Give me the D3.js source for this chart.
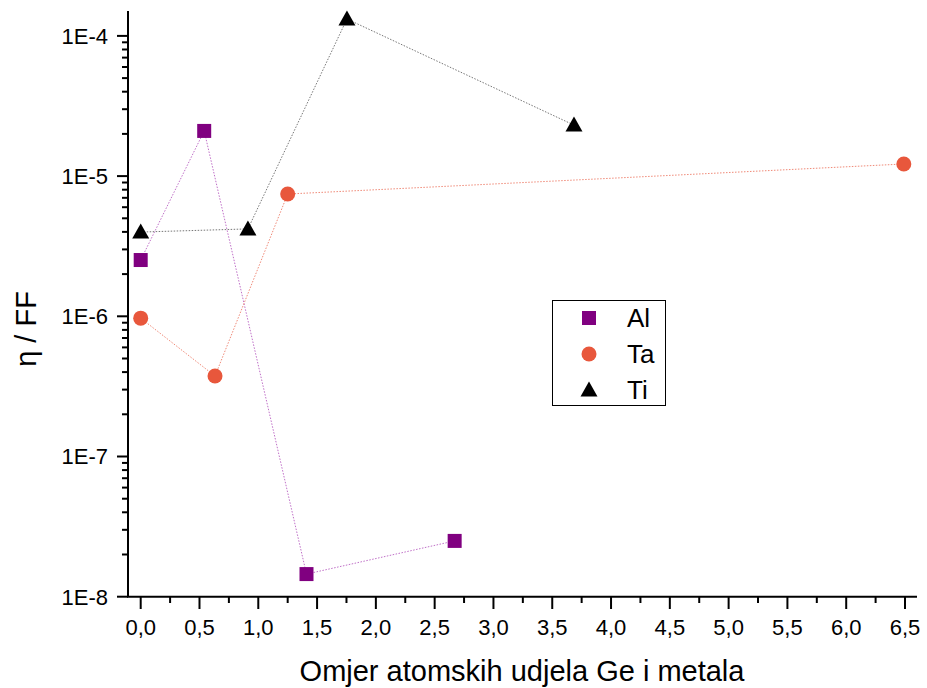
<!DOCTYPE html>
<html><head><meta charset="utf-8">
<script src="https://cdn.jsdelivr.net/npm/d3@7"></script>
<style>body{margin:0;background:#fff}svg{display:block;font-family:Arial,"Liberation Sans",sans-serif}</style>
</head><body>
<svg id="c" width="927" height="688"></svg>
<script>
const seriesNames = ["Al","Ta","Ti"];
const alX = [0, 0.54, 1.41, 2.67];
const alY = [2.52e-6, 2.1e-5, 1.45e-8, 2.5e-8];
const taX = [0, 0.632, 1.25, 6.49];
const taY = [9.7e-7, 3.75e-7, 7.45e-6, 1.22e-5];
const tiX = [0, 0.912, 1.754, 3.685];
const tiY = [3.99e-6, 4.2e-6, 1.32e-4, 2.31e-5];
const xTicks = [0,0.5,1,1.5,2,2.5,3,3.5,4,4.5,5,5.5,6,6.5];
const yTicks = [1e-8,1e-7,1e-6,1e-5,1e-4];
const yTickLabels = ["1E-8","1E-7","1E-6","1E-5","1E-4"];
const xTitle = "Omjer atomskih udjela Ge i metala";
const yTitle = "η / FF";

const svg = d3.select("#c");
const x = d3.scaleLinear().domain([0, 6.5]).range([140.7, 905]);
const y = d3.scaleLog().domain([1e-8, 1e-4]).range([596.7, 35.9]);
const yTop = y.invert(11);

// Y axis
const g = svg.append("g");
g.append("line").attr("x1",128).attr("x2",128).attr("y1",y(yTop)).attr("y2",y(1e-8)).attr("stroke","#000").attr("stroke-width",2);
const minorY = [];
for (let e=-8;e<-3;e++) for (let m=2;m<=9;m++){const v=m*Math.pow(10,e); if(v<=yTop) minorY.push(v);}
g.selectAll(".ymin").data(minorY).join("line").attr("x1",122).attr("x2",128).attr("y1",d=>y(d)).attr("y2",d=>y(d)).attr("stroke","#000").attr("stroke-width",2);
g.selectAll(".ymaj").data(yTicks).join("line").attr("x1",117).attr("x2",128).attr("y1",d=>y(d)).attr("y2",d=>y(d)).attr("stroke","#000").attr("stroke-width",2);
g.selectAll(".ylab").data(yTicks).join("text").attr("x",108).attr("y",d=>y(d)).attr("dy","0.36em").attr("text-anchor","end").attr("font-size",22).text((d,i)=>yTickLabels[i]);

// X axis
g.append("line").attr("x1",127).attr("x2",917).attr("y1",596.7).attr("y2",596.7).attr("stroke","#000").attr("stroke-width",2);
const minorX = xTicks.slice(0,-1).map(d=>d+0.25);
g.selectAll(".xmin").data(minorX).join("line").attr("x1",d=>x(d)).attr("x2",d=>x(d)).attr("y1",596.7).attr("y2",603).attr("stroke","#000").attr("stroke-width",2);
g.selectAll(".xmaj").data(xTicks).join("line").attr("x1",d=>x(d)).attr("x2",d=>x(d)).attr("y1",596.7).attr("y2",609).attr("stroke","#000").attr("stroke-width",2);
g.selectAll(".xlab").data(xTicks).join("text").attr("x",d=>x(d)).attr("y",635).attr("text-anchor","middle").attr("font-size",22).text(d=>d3.format(".1f")(d).replace(".",","));

svg.append("text").attr("x",522).attr("y",681).attr("text-anchor","middle").attr("font-size",29).text(xTitle);
svg.append("text").attr("transform","translate(36,329) rotate(-90)").attr("text-anchor","middle").attr("font-size",29).text(yTitle);

const series = [
  {name:"Al", xs:alX, ys:alY, color:"#800080", line:"#c070c8", shape:"square"},
  {name:"Ta", xs:taX, ys:taY, color:"#E8573C", line:"#f08a78", shape:"circle"},
  {name:"Ti", xs:tiX, ys:tiY, color:"#000000", line:"#777777", shape:"triangle"}
];
function drawShape(sel, shape, color){
  if(shape==="square") sel.append("rect").attr("x",-7).attr("y",-7).attr("width",14).attr("height",14).attr("fill",color);
  else if(shape==="circle") sel.append("circle").attr("r",7.5).attr("fill",color);
  else sel.append("path").attr("d","M0,-8.5L8.5,6.5L-8.5,6.5Z").attr("fill",color);
}
const line = d3.line().x(d=>x(d[0])).y(d=>y(d[1]));
series.forEach(s=>{
  const pts = s.xs.map((v,i)=>[v,s.ys[i]]);
  svg.append("path").attr("d",line(pts)).attr("fill","none").attr("stroke",s.line).attr("stroke-width",1).attr("stroke-dasharray","1.5,1.5");
});
series.forEach(s=>{
  const pts = s.xs.map((v,i)=>[v,s.ys[i]]);
  pts.forEach(p=>{
    const gg = svg.append("g").attr("transform",`translate(${x(p[0])},${y(p[1])})`);
    drawShape(gg, s.shape, s.color);
  });
});

// Legend
const lg = svg.append("g");
lg.append("rect").attr("x",552.5).attr("y",300.5).attr("width",113).attr("height",105).attr("fill","#fff").attr("stroke","#000").attr("stroke-width",1);
series.forEach((s,i)=>{
  const cy = 318 + i*36;
  const gg = lg.append("g").attr("transform",`translate(589,${cy})`);
  drawShape(gg, s.shape, s.color);
  lg.append("text").attr("x",627).attr("y",cy).attr("dy","0.36em").attr("font-size",26).text(s.name);
});
</script>
</body></html>
